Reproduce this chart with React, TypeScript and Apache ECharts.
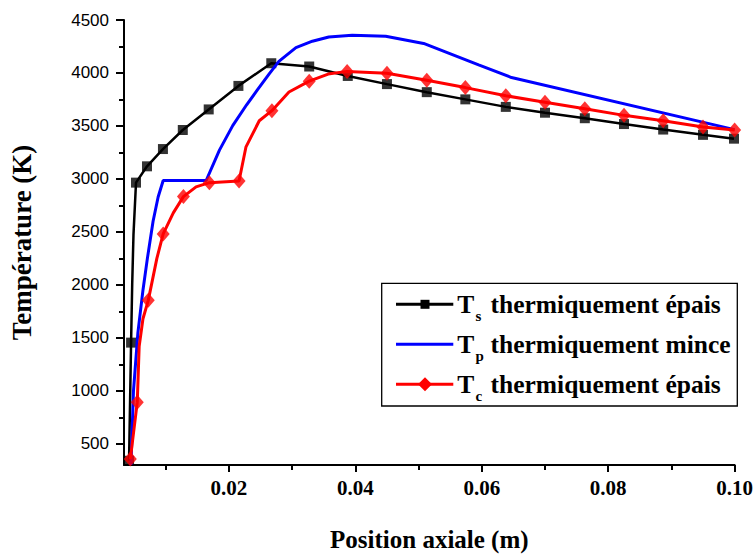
import React, { useEffect, useRef } from "react";
import * as echarts from "echarts";

// ---- data ----
const xLabelValues = [0.02, 0.04, 0.06, 0.08, 0.1];
const xMinorValues = [0.01, 0.03, 0.05, 0.07, 0.09];
const yLabelValues = [500, 1000, 1500, 2000, 2500, 3000, 3500, 4000, 4500];
const yMinorValues = [750, 1250, 1750, 2250, 2750, 3250, 3750, 4250];

// Ts thermiquement épais (marked points)
const tsMarked: number[][] = [
  [0.0042, 340], [0.00452, 1455], [0.0053, 2965], [0.00704, 3119], [0.00956, 3282],
  [0.0127, 3462], [0.0168, 3656], [0.0215, 3878], [0.0267, 4092], [0.0327, 4061],
  [0.0388, 3972], [0.045, 3895], [0.0513, 3819], [0.0574, 3751], [0.0638, 3680],
  [0.07, 3625], [0.0763, 3573], [0.0825, 3518], [0.0887, 3466], [0.095, 3416],
  [0.0999, 3380],
];
const tsExtra: number[][] = [[0.0047, 2014], [0.0049, 2474]];

// Tp thermiquement mince
const tpCurve: number[][] = [
  [0.0045, 300], [0.0049, 1000], [0.0056, 1550], [0.0064, 1950], [0.0071, 2250],
  [0.008, 2600], [0.0088, 2830], [0.0096, 2985], [0.0164, 2985], [0.0185, 3272],
  [0.0206, 3503], [0.0228, 3700], [0.0245, 3840], [0.0264, 3994], [0.0279, 4110],
  [0.0306, 4239], [0.0332, 4300], [0.0358, 4340], [0.0395, 4355], [0.0448, 4346],
  [0.0508, 4279], [0.0595, 4076], [0.0647, 3957], [0.1, 3465],
];

// Tc thermiquement épais (marked points)
const tcMarked: number[][] = [
  [0.0044, 356], [0.0055, 893], [0.00724, 1854], [0.0096, 2481], [0.0128, 2833],
  [0.0169, 2965], [0.0216, 2981], [0.0268, 3644], [0.0327, 3923], [0.0387, 4015],
  [0.045, 3997], [0.0513, 3932], [0.0574, 3862], [0.0638, 3785], [0.07, 3724],
  [0.0763, 3662], [0.0825, 3600], [0.0887, 3549], [0.095, 3490], [0.1, 3462],
];
const tcExtra: number[][] = [
  [0.0058, 1420], [0.0064, 1680], [0.0086, 2250], [0.0112, 2680], [0.0148, 2925],
  [0.0227, 3303], [0.0248, 3549], [0.0295, 3820], [0.0357, 3990],
];

const legendSubs = ["s", "p", "c"];
const legendTexts = ["thermiquement épais", "thermiquement mince", "thermiquement épais"];
const seriesColors = ["#000000", "#0000ff", "#ff0000"];

const merge = (a: number[][], b: number[][]) => [...a, ...b].sort((p, q) => p[0] - q[0]);

const SERIF = "Liberation Serif";
const SANS = "Liberation Sans";

function buildLegend(): any[] {
  const box = { x: 381.7, y: 283.3, w: 355.6, h: 122.7 };
  const rowY = [304.3, 344.2, 384.3];
  const els: any[] = [
    {
      type: "rect",
      shape: { x: box.x, y: box.y, width: box.w, height: box.h },
      style: { fill: "#fff", stroke: "#000", lineWidth: 1.3 },
      z: 100,
    },
  ];
  rowY.forEach((y, i) => {
    els.push({
      type: "line",
      shape: { x1: 396, y1: y, x2: 453.3, y2: y },
      style: { stroke: seriesColors[i], lineWidth: 3 },
      z: 101,
    });
    if (i === 0) {
      els.push({
        type: "rect",
        shape: { x: 425 - 4.5, y: y - 4.5, width: 9, height: 9 },
        style: { fill: "#000" },
        z: 102,
      });
    }
    if (i === 2) {
      els.push({
        type: "polygon",
        shape: { points: [[425, y - 7], [432, y], [425, y + 7], [418, y]] },
        style: { fill: "#ff0000" },
        z: 102,
      });
    }
    els.push({
      type: "text",
      x: 457.3,
      y: y,
      style: { text: "T", font: `bold 25.5px ${SERIF}`, fill: "#000", align: "left", verticalAlign: "middle" },
      z: 102,
    });
    els.push({
      type: "text",
      x: 475.5,
      y: y + 12,
      style: { text: legendSubs[i], font: `bold 15px ${SERIF}`, fill: "#000", align: "left", verticalAlign: "middle" },
      z: 102,
    });
    els.push({
      type: "text",
      x: 490.5,
      y: y,
      style: { text: legendTexts[i], font: `bold 25.5px ${SERIF}`, fill: "#000", align: "left", verticalAlign: "middle" },
      z: 102,
    });
  });
  return els;
}

export default function App() {
  const ref = useRef<HTMLDivElement>(null);
  useEffect(() => {
    if (!ref.current) return;
    const chart = echarts.init(ref.current, undefined, { renderer: "svg" });
    const grid = { left: 124, right: 18.3, top: 20, bottom: 81.3 };
    const xMin = 0.0034, xMax = 0.1, yMin = 300, yMax = 4500;
    chart.setOption({
      animation: false,
      backgroundColor: "#fff",
      grid,
      graphic: buildLegend(),
      xAxis: [
        {
          type: "value", min: xMin, max: xMax, position: "bottom",
          name: "Position axiale (m)", nameLocation: "middle", nameGap: 62,
          nameTextStyle: { fontFamily: SERIF, fontWeight: "bold", fontSize: 25, color: "#000" },
          axisLine: { show: true, onZero: false, lineStyle: { color: "#000", width: 2 } },
          axisTick: { show: true, inside: false, length: 7, customValues: xLabelValues, lineStyle: { color: "#000", width: 2 } },
          axisLabel: {
            customValues: xLabelValues, margin: 12, fontFamily: SERIF, fontWeight: "bold", fontSize: 21, color: "#000",
            formatter: (v: number) => v.toFixed(2),
          },
          splitLine: { show: false },
        },
        {
          type: "value", min: xMin, max: xMax, position: "bottom",
          axisLine: { show: false, onZero: false },
          axisTick: { show: true, inside: false, length: 5, customValues: xMinorValues, lineStyle: { color: "#000", width: 2 } },
          axisLabel: { show: false },
          splitLine: { show: false },
        },
      ],
      yAxis: [
        {
          type: "value", min: yMin, max: yMax, position: "left",
          name: "Température (K)", nameLocation: "middle", nameGap: 89,
          nameTextStyle: { fontFamily: SERIF, fontWeight: "bold", fontSize: 27, color: "#000" },
          axisLine: { show: true, onZero: false, lineStyle: { color: "#000", width: 2 } },
          axisTick: { show: true, inside: false, length: 8, customValues: yLabelValues, lineStyle: { color: "#000", width: 2 } },
          axisLabel: {
            customValues: yLabelValues, margin: 15, fontFamily: SANS, fontSize: 17, color: "#000",
            formatter: (v: number) => String(v),
          },
          splitLine: { show: false },
        },
        {
          type: "value", min: yMin, max: yMax, position: "left",
          axisLine: { show: false, onZero: false },
          axisTick: { show: true, inside: false, length: 5, customValues: yMinorValues, lineStyle: { color: "#000", width: 2 } },
          axisLabel: { show: false },
          splitLine: { show: false },
        },
      ],
      series: [
        {
          name: "Ts", type: "line", data: merge(tsMarked, tsExtra), showSymbol: false, symbol: "none",
          lineStyle: { color: seriesColors[0], width: 2.5 }, z: 2,
        },
        {
          name: "Ts-markers", type: "scatter", data: tsMarked, symbol: "rect", symbolSize: 10,
          itemStyle: { color: seriesColors[0] }, z: 3,
        },
        {
          name: "Tp", type: "line", data: tpCurve, showSymbol: false, symbol: "none",
          lineStyle: { color: seriesColors[1], width: 3 }, z: 4,
        },
        {
          name: "Tc", type: "line", data: merge(tcMarked, tcExtra), showSymbol: false, symbol: "none",
          lineStyle: { color: seriesColors[2], width: 3 }, z: 5,
        },
        {
          name: "Tc-markers", type: "scatter", data: tcMarked, symbol: "diamond", symbolSize: [13, 15],
          itemStyle: { color: seriesColors[2] }, z: 6,
        },
      ],
    });
    return () => chart.dispose();
  }, []);
  return (
    <div
      ref={ref}
      style={{ position: "fixed", left: 0, top: 0, width: 756, height: 557, background: "#fff" }}
    />
  );
}
